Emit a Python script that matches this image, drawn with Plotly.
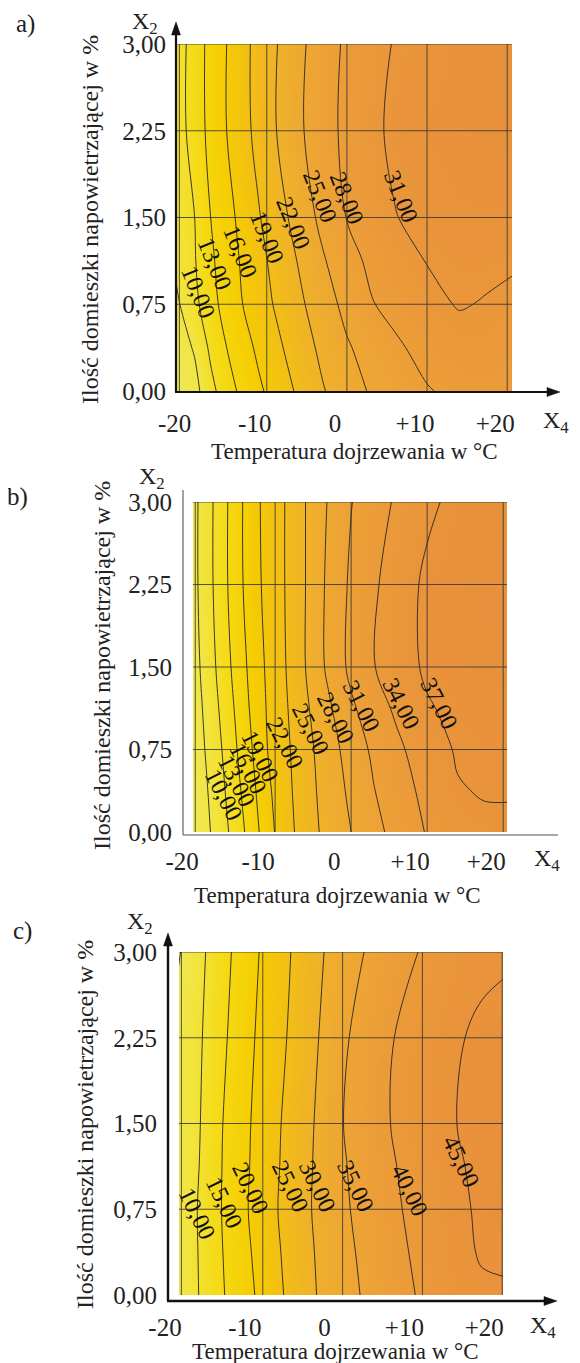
import plotly.graph_objects as go

# page is rendered with the browser's default 8px body margin
OFF = 8
W, H = 580 - OFF, 1363 - OFF
FONT = "Liberation Serif, Times New Roman, serif"

# ---------------- data ----------------
temperature = [-21.5, -19, -17, -15, -13, -11, -9, -6, -3, 0, 3, 6, 10, 14, 17.5, 21]
admixture = [0, 0.375, 0.75, 1.125, 1.5, 2.25, 3.0]

z_a = [
    [4.5, 6.0, 9.1, 11.7, 13.8, 15.5, 17.1, 19.5, 21.8, 23.6, 25.3, 26.4, 27.8, 28.7, 28.9, 28.5],
    [5.2, 7.3, 10.6, 13.0, 14.8, 16.6, 18.2, 20.5, 22.7, 24.7, 26.1, 27.5, 29.0, 29.8, 29.9, 29.5],
    [6.2, 9.2, 12.0, 14.1, 16.0, 17.6, 19.2, 21.4, 23.7, 25.8, 27.8, 28.9, 30.2, 31.2, 30.8, 30.3],
    [7.3, 9.8, 12.5, 14.5, 16.4, 18.1, 19.8, 22.2, 24.7, 26.9, 28.6, 29.7, 31.1, 31.6, 31.6, 31.3],
    [7.8, 10.0, 13.0, 15.0, 16.9, 18.8, 20.5, 23.2, 25.8, 28.1, 29.5, 30.9, 31.8, 32.3, 32.4, 32.3],
    [8.2, 11.3, 13.9, 16.0, 18.0, 19.9, 21.8, 24.5, 26.8, 28.7, 30.3, 31.6, 32.5, 33.0, 33.3, 33.4],
    [8.2, 11.3, 14.0, 16.0, 18.1, 20.0, 21.7, 24.3, 26.6, 28.5, 29.9, 31.2, 32.0, 32.6, 33.0, 33.2],
]
z_b = [
    [3.5, 6.4, 8.8, 11.5, 14.5, 17.8, 20.4, 23.5, 26.0, 28.0, 30.1, 32.0, 34.2, 35.8, 36.4, 36.6],
    [3.8, 6.8, 9.4, 12.25, 15.25, 18.4, 20.7, 23.8, 26.3, 28.6, 30.9, 32.7, 34.8, 36.8, 37.2, 37.15],
    [4.2, 7.3, 10.0, 13.0, 16.0, 19.0, 21.0, 24.0, 26.7, 29.25, 31.6, 33.4, 35.6, 37.3, 37.6, 37.6],
    [4.6, 7.7, 10.6, 13.6, 16.6, 19.25, 21.25, 24.5, 27.5, 30.5, 32.7, 34.5, 36.7, 37.8, 38.2, 38.3],
    [4.8, 8.2, 11.2, 14.2, 17.0, 19.5, 21.5, 25.0, 28.6, 31.7, 33.9, 35.5, 37.5, 38.3, 38.6, 38.7],
    [5.0, 8.7, 11.8, 14.9, 17.7, 19.9, 21.7, 25.0, 28.6, 31.5, 33.6, 35.4, 37.6, 38.4, 38.8, 39.0],
    [5.0, 8.7, 11.8, 14.9, 17.9, 20.0, 21.7, 25.0, 28.2, 30.9, 32.7, 34.4, 36.4, 37.8, 38.3, 38.6],
]
z_c = [
    [5.3, 8.5, 11.6, 14.7, 17.4, 20.0, 22.9, 26.8, 30.3, 33.1, 35.7, 37.9, 40.6, 43.0, 44.3, 44.6],
    [5.3, 8.6, 11.8, 15.0, 17.8, 20.6, 23.4, 27.2, 30.6, 33.6, 36.2, 38.4, 41.2, 43.7, 45.4, 45.6],
    [5.4, 8.7, 12.0, 15.3, 18.3, 21.2, 23.9, 27.6, 31.0, 34.2, 36.7, 39.0, 41.7, 44.1, 45.6, 46.0],
    [5.3, 8.2, 11.7, 15.2, 18.1, 20.9, 23.6, 27.35, 30.9, 34.5, 37.1, 39.5, 42.05, 44.5, 45.8, 46.2],
    [5.5, 8.0, 11.4, 15.0, 17.9, 20.7, 23.4, 27.1, 30.7, 34.9, 37.5, 40.0, 42.4, 44.9, 46.0, 46.4],
    [5.5, 8.0, 10.8, 14.2, 17.1, 20.0, 22.5, 26.25, 30.0, 34.2, 37.1, 39.7, 42.2, 44.5, 45.8, 46.2],
    [3.5, 6.6, 10.3, 13.4, 16.4, 19.3, 21.9, 25.6, 29.3, 32.4, 35.3, 37.5, 40.4, 42.8, 44.0, 44.6],
]

levels_a = (7, 31, 3)
levels_b = (7, 37, 3)
levels_c = (5, 45, 5)

labels_a = [10, 13, 16, 19, 22, 25, 28, 31]
labels_b = [10, 13, 16, 19, 22, 25, 28, 31, 34, 37]
labels_c = [10, 15, 20, 25, 30, 35, 40, 45]

x_tickvals = [-20, -10, 0, 10, 20]
x_ticktext = ["-20", "-10", "0", "+10", "+20"]
y_tickvals = [0, 0.75, 1.5, 2.25, 3.0]
y_ticktext = ["0,00", "0,75", "1,50", "2,25", "3,00"]
grid_temps = [-10, 0, 10, 20]
grid_adm = [0.75, 1.5, 2.25, 3.0]

x_title = "Temperatura dojrzewania w °C"
y_title = "Ilość domieszki napowietrzającej w %"

# ---------------- layout / styling (page pixel geometry) ----------------
panels = [
    dict(name="a)", z=z_a, lv=levels_a, labels=labels_a, zr=(4, 34),
         box=(177, 512, 44, 391), xr=(-21.2, 20.6), xshift=-12, xstand=15, ystand=10,
         lab_pos=[(-18.5, 0.86), (-16.45, 1.1), (-13.3, 1.2), (-10.0, 1.33), (-6.7, 1.45),
                  (-3.3, 1.68), (0.0, 1.67), (6.8, 1.68)], lab_ang=68,
         name_xy=(25, 24), x2_xy=(145, 23), x4_xy=(556, 422), xt_xy=(354, 451), yt_xy=(90, 220),
         yarrow=(176, 392, 22), xarrow=(392, 175, 560), thick=2.2, arrows=True),
    dict(name="b)", z=z_b, lv=levels_b, labels=labels_b, zr=(3.5, 39.5),
         box=(193, 507, 502, 832), xr=(-20.8, 20.5), xshift=-17, xstand=12, ystand=20,
         lab_pos=[(-16.7, 0.34), (-15.1, 0.46), (-13.6, 0.58), (-12.0, 0.69), (-8.7, 0.81),
                  (-5.3, 0.94), (-2.0, 1.04), (1.4, 1.15), (6.5, 1.17), (11.5, 1.17)], lab_ang=63,
         name_xy=(17, 497), x2_xy=(152, 478), x4_xy=(547, 860), xt_xy=(338, 895), yt_xy=(102, 665),
         yarrow=(183, 835, 490), xarrow=(835, 183, 558), thick=1.1, arrows=False),
    dict(name="c)", z=z_c, lv=levels_c, labels=labels_c, zr=(3, 47),
         box=(179, 503, 952, 1295), xr=(-20.5, 20.1), xshift=-18, xstand=15, ystand=21,
         lab_pos=[(-18.2, 0.71), (-14.9, 0.81), (-11.5, 0.94), (-6.6, 0.95), (-3.2, 0.95),
                  (1.6, 0.95), (8.4, 0.92), (14.8, 1.17)], lab_ang=64,
         name_xy=(22, 931), x2_xy=(140, 923), x4_xy=(543, 1327), xt_xy=(335, 1351), yt_xy=(85, 1125),
         yarrow=(168, 1301, 933), xarrow=(1301, 167, 557), thick=2.4, arrows=True),
]

colorscale = [
    [0.0, "#EEE85E"], [0.12, "#F2E43C"], [0.25, "#F5DA14"], [0.38, "#F5CD02"],
    [0.5, "#F2BE16"], [0.62, "#EFAF2C"], [0.75, "#EDA236"], [0.88, "#EA973A"], [1.0, "#E88F3B"],
]


def px(x):
    return (x - OFF) / W


def py(y):
    return 1 - (y - OFF) / H


fig = go.Figure()
shapes = []
annotations = []


def txt(xy, text, size=25, angle=0):
    annotations.append(dict(x=px(xy[0]), y=py(xy[1]), xref="paper", yref="paper",
                            text=text, showarrow=False, textangle=angle,
                            xanchor="center", yanchor="middle",
                            font=dict(family=FONT, size=size, color="#222")))


for i, p in enumerate(panels, start=1):
    xa = "x" if i == 1 else f"x{i}"
    ya = "y" if i == 1 else f"y{i}"
    x0, x1, y0, y1 = p["box"]
    fig.add_trace(go.Contour(
        x=temperature, y=admixture, z=p["z"],
        xaxis=xa, yaxis=ya,
        colorscale=colorscale, zmin=p["zr"][0], zmax=p["zr"][1],
        autocontour=False,
        contours=dict(start=p["lv"][0], end=p["lv"][1], size=p["lv"][2],
                      coloring="heatmap", showlabels=False),
        line=dict(color="#262626", width=0.9, smoothing=1.0),
        showscale=False, hoverinfo="skip",
    ))
    axkey = "xaxis" if i == 1 else f"xaxis{i}"
    aykey = "yaxis" if i == 1 else f"yaxis{i}"
    fig.update_layout(**{
        axkey: dict(domain=[px(x0), px(x1)], range=list(p["xr"]), anchor=ya,
                    tickvals=x_tickvals, ticktext=x_ticktext, ticks="",
                    showgrid=False, zeroline=False, showline=False, automargin=False,
                    ticklabelshift=p["xshift"], ticklabelstandoff=p["xstand"],
                    tickfont=dict(family=FONT, size=25, color="#222")),
        aykey: dict(domain=[py(y1), py(y0)], range=[0, 3], anchor=xa,
                    tickvals=y_tickvals, ticktext=y_ticktext, ticks="",
                    showgrid=False, zeroline=False, showline=False, automargin=False,
                    ticklabelstandoff=p["ystand"],
                    tickfont=dict(family=FONT, size=25, color="#222")),
    })
    # grid lines over the map
    gl = dict(color="rgba(55,55,55,0.85)", width=1)
    for t in grid_temps:
        shapes.append(dict(type="line", xref=xa, yref=ya, x0=t, x1=t, y0=0, y1=3,
                           line=gl, layer="above"))
    for a in grid_adm:
        shapes.append(dict(type="line", xref=xa, yref=ya, x0=p["xr"][0], x1=p["xr"][1],
                           y0=a, y1=a, line=gl, layer="above"))
    shapes.append(dict(type="line", xref=xa, yref=ya, x0=p["xr"][0] + 0.3, x1=p["xr"][0] + 0.3,
                       y0=0, y1=3, line=gl, layer="above"))
    # axis lines / arrows
    ax_x, ay_b, ay_t = p["yarrow"]
    axl_y, axl_l, axl_r = p["xarrow"]
    lc = "#111" if p["arrows"] else "#555"
    head = 12 if p["arrows"] else 0
    shapes.append(dict(type="line", xref="paper", yref="paper",
                       x0=px(ax_x), x1=px(ax_x), y0=py(ay_b), y1=py(ay_t + head),
                       line=dict(color=lc, width=p["thick"])))
    shapes.append(dict(type="line", xref="paper", yref="paper",
                       x0=px(axl_l), x1=px(axl_r - head), y0=py(axl_y), y1=py(axl_y),
                       line=dict(color=lc, width=p["thick"])))
    if p["arrows"]:
        shapes.append(dict(type="path", xref="paper", yref="paper",
                           path=f"M {px(ax_x-4.5)} {py(ay_t+13)} L {px(ax_x+4.5)} {py(ay_t+13)} L {px(ax_x)} {py(ay_t)} Z",
                           fillcolor="#111", line=dict(color="#111", width=0.5)))
        shapes.append(dict(type="path", xref="paper", yref="paper",
                           path=f"M {px(axl_r-13)} {py(axl_y-4.5)} L {px(axl_r-13)} {py(axl_y+4.5)} L {px(axl_r)} {py(axl_y)} Z",
                           fillcolor="#111", line=dict(color="#111", width=0.5)))
    # contour value labels
    for v, (lx, ly) in zip(p["labels"], p["lab_pos"]):
        annotations.append(dict(x=lx, y=ly, xref=xa, yref=ya, text=f"{v:.2f}".replace(".", ","),
                                showarrow=False, textangle=p["lab_ang"],
                                font=dict(family=FONT, size=24, color="#111")))

    txt(p["name_xy"], p["name"])
    txt(p["x2_xy"], "X<sub>2</sub>", size=24)
    txt(p["x4_xy"], "X<sub>4</sub>", size=24)
    txt(p["xt_xy"], x_title, size=23)
    txt(p["yt_xy"], y_title, size=24, angle=-90)

fig.update_layout(
    width=W, height=H, margin=dict(l=0, r=0, t=0, b=0, autoexpand=False),
    paper_bgcolor="white", plot_bgcolor="white",
    showlegend=False, shapes=shapes, annotations=annotations,
)

fig.write_html("out.html")
